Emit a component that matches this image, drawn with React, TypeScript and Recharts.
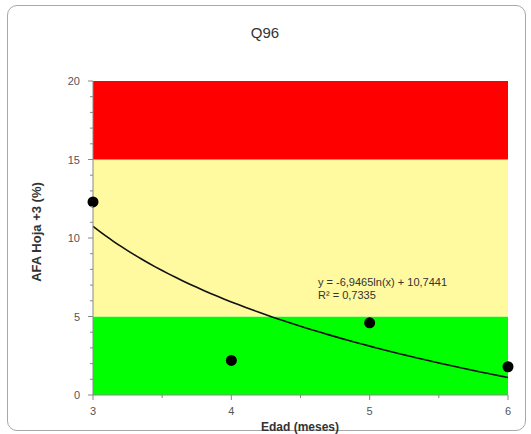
import React from "react";
import {
  ComposedChart,
  Scatter,
  Line,
  XAxis,
  YAxis,
  ReferenceArea,
} from "recharts";

const title = "Q96";
const xLabel = "Edad (meses)";
const yLabel = "AFA Hoja +3 (%)";

const ages = [3, 4, 5, 6];
const afaValues = [12.3, 2.2, 4.6, 1.8];

const xTicks = [3, 3.5, 4, 4.5, 5, 5.5, 6];
const xMajor = [3, 4, 5, 6];
const yTicks = [0, 1, 2, 3, 4, 5, 6, 7, 8, 9, 10, 11, 12, 13, 14, 15, 16, 17, 18, 19, 20];
const yMajor = [0, 5, 10, 15, 20];

const bandLow = [0, 5];
const bandMid = [5, 15];
const bandHigh = [15, 20];

// Excel log trendline as printed on the chart (x = index 1..4)
const TREND_A = -6.9465;
const TREND_B = 10.7441;
const trendLabel1 = "y = -6,9465ln(x) + 10,7441";
const trendLabel2 = "R² = 0,7335";

const scatterData = ages.map((x, i) => ({ x, y: afaValues[i] }));
const trendData: { x: number; t: number }[] = [];
for (let k = 0; k <= 60; k++) {
  const x = 3 + k * 0.05;
  trendData.push({ x, t: TREND_A * Math.log(x - 2) + TREND_B });
}

const FONT = "'Liberation Sans', Arial, sans-serif";

const XTick = (props: any) => {
  const { x, y, payload } = props;
  const major = xMajor.includes(payload.value);
  return (
    <g>
      <line x1={x} x2={x} y1={y} y2={y + (major ? 5 : 3)} stroke="#888" />
      {major && (
        <text x={x} y={y + 20} textAnchor="middle" fontSize={11} fill="#555" fontFamily={FONT}>
          {payload.value}
        </text>
      )}
    </g>
  );
};

const YTick = (props: any) => {
  const { x, y, payload } = props;
  const major = yMajor.includes(payload.value);
  return (
    <g>
      <line x1={x - (major ? 5 : 3)} x2={x} y1={y} y2={y} stroke="#888" />
      {major && (
        <text x={x - 13} y={y + 4} textAnchor="end" fontSize={11} fill="#555" fontFamily={FONT}>
          {payload.value}
        </text>
      )}
    </g>
  );
};

export default function App() {
  return (
    <div style={{ position: "absolute", left: 0, top: 0, width: 531, height: 434, background: "#fff" }}>
      <div
        style={{
          position: "absolute",
          left: 7,
          top: 5,
          width: 519,
          height: 426,
          border: "1px solid #a8a8a8",
          borderRadius: 10,
          boxSizing: "border-box",
        }}
      />
      <ComposedChart
        width={531}
        height={434}
        margin={{ top: 81, right: 23, bottom: 9, left: 20 }}
        style={{ position: "absolute", left: 0, top: 0 }}
      >
        <XAxis
          type="number"
          dataKey="x"
          domain={[3, 6]}
          ticks={xTicks}
          interval={0}
          height={30}
          tick={<XTick />}
          tickLine={false}
          tickSize={0}
          tickMargin={0}
          axisLine={{ stroke: "#888" }}
          allowDuplicatedCategory={false}
        />
        <YAxis
          type="number"
          domain={[0, 20]}
          ticks={yTicks}
          interval={0}
          width={73}
          tick={<YTick />}
          tickLine={false}
          tickSize={0}
          tickMargin={0}
          axisLine={{ stroke: "#888" }}
        />
        <ReferenceArea y1={bandLow[0]} y2={bandLow[1]} x1={3} x2={6} fill="#00ff00" fillOpacity={1} stroke="none" ifOverflow="hidden" />
        <ReferenceArea y1={bandMid[0]} y2={bandMid[1]} x1={3} x2={6} fill="#fff9a0" fillOpacity={1} stroke="none" ifOverflow="hidden" />
        <ReferenceArea y1={bandHigh[0]} y2={bandHigh[1]} x1={3} x2={6} fill="#ff0000" fillOpacity={1} stroke="none" ifOverflow="hidden" />
        <Line
          data={trendData}
          dataKey="t"
          type="monotone"
          stroke="#111"
          strokeWidth={1.6}
          dot={false}
          isAnimationActive={false}
        />
        <Scatter
          data={scatterData}
          dataKey="y"
          fill="#000"
          isAnimationActive={false}
          shape={(p: any) => <circle cx={p.cx} cy={p.cy} r={5.5} fill="#000" />}
        />
      </ComposedChart>
      <svg
        width={531}
        height={434}
        style={{ position: "absolute", left: 0, top: 0, pointerEvents: "none" }}
      >
        <text x={318} y={286} fontSize={11} fill="#333" fontFamily={FONT}>{trendLabel1}</text>
        <text x={318} y={299} fontSize={11} fill="#333" fontFamily={FONT}>{trendLabel2}</text>
        <text x={265} y={38} textAnchor="middle" fontSize={15} fill="#333" fontFamily={FONT}>{title}</text>
        <text x={300} y={431} textAnchor="middle" fontSize={12} fontWeight="bold" fill="#333" fontFamily={FONT}>{xLabel}</text>
        <text
          x={41}
          y={232}
          textAnchor="middle"
          fontSize={13}
          fontWeight="bold"
          fill="#333"
          fontFamily={FONT}
          transform="rotate(-90 41 232)"
        >
          {yLabel}
        </text>
      </svg>
    </div>
  );
}
